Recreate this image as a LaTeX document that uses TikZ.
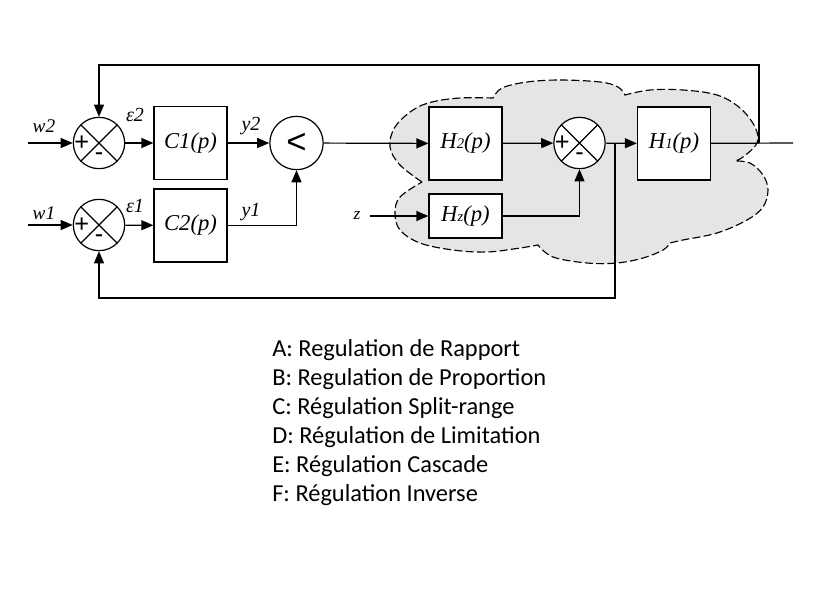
\documentclass[tikz,border=0pt]{standalone}
\usepackage{fontspec}
\setmainfont{Carlito}
\newfontfamily\tms{Liberation Serif}
\newfontfamily\arl{Liberation Sans}
\usetikzlibrary{arrows.meta}

\begin{document}
\begin{tikzpicture}[x=0.75pt,y=-0.75pt,
    sig/.style={line width=0.9pt,-{Triangle[length=9pt,width=7.5pt]}},
    wire/.style={line width=0.9pt},
    blk/.style={draw,line width=0.9pt,fill=white,minimum width=54.75pt,minimum height=54.75pt,inner sep=0pt,font=\tms\itshape\fontsize{17}{17}\selectfont},
    sumj/.style={circle,draw,line width=0.9pt,fill=white,minimum size=38.5pt,inner sep=0pt,
      path picture={\draw[line width=0.9pt] (path picture bounding box.north west) -- (path picture bounding box.south east)
        (path picture bounding box.south west) -- (path picture bounding box.north east);}},
    sgn/.style={font=\arl\fontsize{19}{19}\selectfont,inner sep=0pt},
    lbl/.style={font=\tms\itshape\fontsize{15}{15}\selectfont,inner sep=0pt},
    cloud/.style={draw,dash pattern=on 6pt off 2.5pt,line width=0.85pt,fill=gray!20},
    leg/.style={anchor=base west,inner sep=0pt,font=\fontsize{18.3}{21}\selectfont}]
  \useasboundingbox (0,0) rectangle (819,593);

  % the dashed zone round the process
  \draw[cloud] plot[smooth,tension=0.6] coordinates {(422,182) (400,165) (390,147) (395,127) (413,110) (432,102) (460,98) (493,98)}
    -- plot[smooth,tension=0.6] coordinates {(493,98) (502,88) (527,82) (560,80) (600,82) (618,87) (625,95)}
    -- plot[smooth,tension=0.6] coordinates {(625,95) (650,90) (683,90) (717,95) (740,108) (755,127) (757,143) (743,157) (735,161)}
    -- plot[smooth,tension=0.6] coordinates {(735,161) (750,163) (763,175) (768,190) (763,207) (747,220) (717,233) (683,240) (670,243)}
    -- plot[smooth,tension=0.6] coordinates {(670,243) (663,250) (643,258) (617,263) (587,263) (553,257) (538,245)}
    -- plot[smooth,tension=0.6] coordinates {(538,245) (520,248) (487,252) (453,250) (420,243) (400,230) (395,213) (400,197) (422,182)}
    -- cycle;

  % blocks
  \node[sumj] (S2) at (99,143) {};
  \node[sumj] (S1) at (99,225) {};
  \node[blk] (C1) at (190.5,143) {C1(p)};
  \node[blk] (C2) at (190.5,225.5) {C2(p)};
  \node[circle,draw,line width=0.9pt,fill=white,minimum size=40pt,inner sep=0pt,font=\arl\fontsize{26}{26}\selectfont] (CMP) at (296.5,143) {<};
  \node[blk] (H2) at (465.5,143.5) {H{\fontsize{11}{11}\selectfont 2}(p)};
  \node[blk,minimum height=33pt] (HZ) at (465.5,216) {H{\fontsize{11}{11}\selectfont z}(p)};
  \node[sumj] (S3) at (579.5,143) {};
  \node[blk] (H1) at (674,143.5) {H{\fontsize{11}{11}\selectfont 1}(p)};

  % signs
  \node[sgn] (p2) at ([xshift=-13pt]S2.center) {+};
  \node[sgn] (m2) at ([yshift=-10.5pt]S2.center) {-};
  \node[sgn] (p1) at ([xshift=-13pt]S1.center) {+};
  \node[sgn] (m1) at ([yshift=-10.5pt]S1.center) {-};
  \node[sgn] (p3) at ([xshift=-13pt]S3.center) {+};
  \node[sgn] (m3) at ([yshift=-10.5pt]S3.center) {-};

  % free ends
  \coordinate (w2in) at (28,143);
  \coordinate (w1in) at (28,225);
  \coordinate (zin) at (370,216);
  \coordinate (out) at (793,143);
  \coordinate (tap1) at (759,143);
  \coordinate (tap2) at (615,143);
  \coordinate (top) at (99,65);
  \coordinate (bot) at (99,298);

  % signals
  \draw[sig] (w2in) -- (S2);
  \draw[sig] (w1in) -- (S1);
  \draw[sig] (S2) -- (C1);
  \draw[sig] (S1) -- (C2);
  \draw[sig] (C1) -- (CMP);
  \draw[sig] (C2) -| (CMP);
  \draw[sig] (CMP) -- (H2);
  \draw[sig] (zin) -- (HZ);
  \draw[sig] (H2) -- (S3);
  \draw[sig] (HZ) -| (S3);
  \draw[sig] (S3) -- (H1);
  \draw[wire] (H1) -- (out);
  \draw[sig] (tap1) |- (top) -- (S2);
  \draw[sig] (tap2) |- (bot) -- (S1);

  % labels
  \node[lbl,font=\tms\itshape\fontsize{14.5}{14.5}\selectfont] (w2) at (44,126) {w2};
  \node[lbl,font=\tms\itshape\fontsize{14.5}{14.5}\selectfont] (w1) at (44,213) {w1};
  \node[lbl] (e2) at (135,115) {ε2};
  \node[lbl] (e1) at (135,206) {ε1};
  \node[lbl] (y2) at (251,126) {y2};
  \node[lbl] (y1) at (251,212) {y1};
  \node[lbl,font=\tms\itshape\fontsize{13}{13}\selectfont] (z) at (357,216) {z};

  % legend
  \foreach \t [count=\i] in {A: Regulation de Rapport,B: Regulation de Proportion,C: Régulation Split-range,D: Régulation de Limitation,E: Régulation Cascade,F: Régulation Inverse}
    \node[leg] (L\i) at (272,{356+29*(\i-1)}) {\t};
\end{tikzpicture}
\end{document}
